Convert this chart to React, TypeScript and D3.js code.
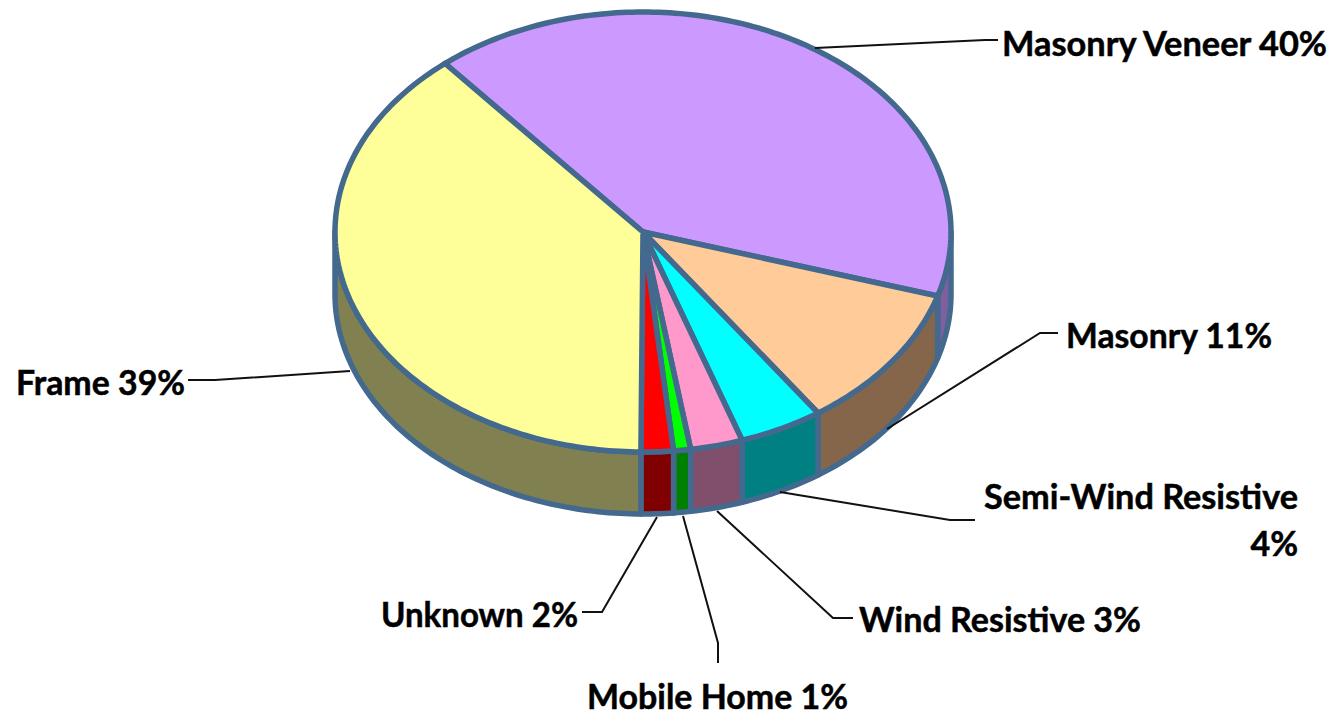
import React from "react";
import * as d3 from "d3";

const categories = ["Masonry Veneer", "Masonry", "Semi-Wind Resistive", "Wind Resistive", "Mobile Home", "Unknown", "Frame"];
const values = [40.78, 10.67, 4.4, 2.74, 0.89, 1.69, 38.75];
const percentLabels = ["40%", "11%", "4%", "3%", "1%", "2%", "39%"];
const topColors = ["#CC99FF", "#FFCC99", "#00FFFF", "#FF99CC", "#00FF00", "#FF0000", "#FFFF99"];
const sideColors = ["#7F5FA0", "#85664A", "#008080", "#804F6C", "#008000", "#800000", "#808050"];

const W = 1335, H = 715;
const cx = 643, cy = 232, rx = 308, ry = 220, depth = 62;
const EDGE = "#44698F";
const toRad = (d: number) => (d * Math.PI) / 180;

const pieGen = d3.pie<number>().sort(null).startAngle(toRad(320)).endAngle(toRad(680));
const slices = pieGen(values);

const project = (a: number, dy = 0): [number, number] => [cx + rx * Math.sin(a), cy - ry * Math.cos(a) + dy];
const line = d3.line<[number, number]>();
const sample = (a0: number, a1: number) => {
  const n = Math.max(2, Math.ceil(Math.abs(a1 - a0) / toRad(1)));
  return d3.range(n + 1).map((i) => a0 + ((a1 - a0) * i) / n);
};

const topPath = (s0: number, s1: number) =>
  line([[cx, cy], ...sample(s0, s1).map((a) => project(a))])! + "Z";

// Visible outer wall: angles between 90deg and 270deg, modulo full turns
const wallPath = (s0: number, s1: number) => {
  for (const k of [0, 2 * Math.PI]) {
    const a0 = Math.max(s0, toRad(90) + k);
    const a1 = Math.min(s1, toRad(270) + k);
    if (a1 > a0) {
      const angs = sample(a0, a1);
      return line([...angs.map((a) => project(a)), ...angs.slice().reverse().map((a) => project(a, depth))])! + "Z";
    }
  }
  return null;
};

// Leader lines: anchor, elbow and end, in the order of the categories
const leaderPoints: [number, number][][] = [
  [[815, 48], [985, 40], [998, 40]],
  [[887, 429], [1040, 333], [1058, 333]],
  [[780, 492], [950, 520], [975, 520]],
  [[717, 511], [833, 618], [853, 618]],
  [[683, 516], [718, 643], [718, 663]],
  [[657, 517], [602, 612], [582, 612]],
  [[350, 371], [215, 380], [188, 380]],
];

const labelX = [1002, 1066, 984, 859, 587, 381, 16];
const labelY = [56, 348, 509, 632, 709, 627, 395];
const labelWidth = [325, 206, 314, 282, 261, 197, 169];

export default function App() {
  return (
    <svg width={W} height={H} viewBox={`0 0 ${W} ${H}`} style={{ position: "absolute", left: 0, top: 0, background: "#fff" }}>
      <g stroke={EDGE} strokeWidth={5.5} strokeLinejoin="round">
        {slices.map((s, i) => {
          const d = wallPath(s.startAngle, s.endAngle);
          return d ? <path key={i} d={d} fill={sideColors[i]} /> : null;
        })}
        {slices.map((s, i) => (
          <path key={i} d={topPath(s.startAngle, s.endAngle)} fill={topColors[i]} />
        ))}
      </g>
      <g fill="none" stroke="#111" strokeWidth={2}>
        {leaderPoints.map((p, i) => (
          <path key={i} d={line(p)!} />
        ))}
      </g>
      <g fontFamily="Lato, 'Open Sans', sans-serif" fontWeight={700} fontSize={34} fill="#000" stroke="#000" strokeWidth={0.5}>
        {categories.map((c, i) =>
          i === 2 ? (
            <g key={c}>
              <text x={labelX[i]} y={labelY[i]} textLength={labelWidth[i]} lengthAdjust="spacingAndGlyphs">{c}</text>
              <text x={1298} y={labelY[i] + 47} textAnchor="end">{percentLabels[i]}</text>
            </g>
          ) : (
            <text key={c} x={labelX[i]} y={labelY[i]} textLength={labelWidth[i]} lengthAdjust="spacingAndGlyphs">{`${c} ${percentLabels[i]}`}</text>
          )
        )}
      </g>
    </svg>
  );
}
